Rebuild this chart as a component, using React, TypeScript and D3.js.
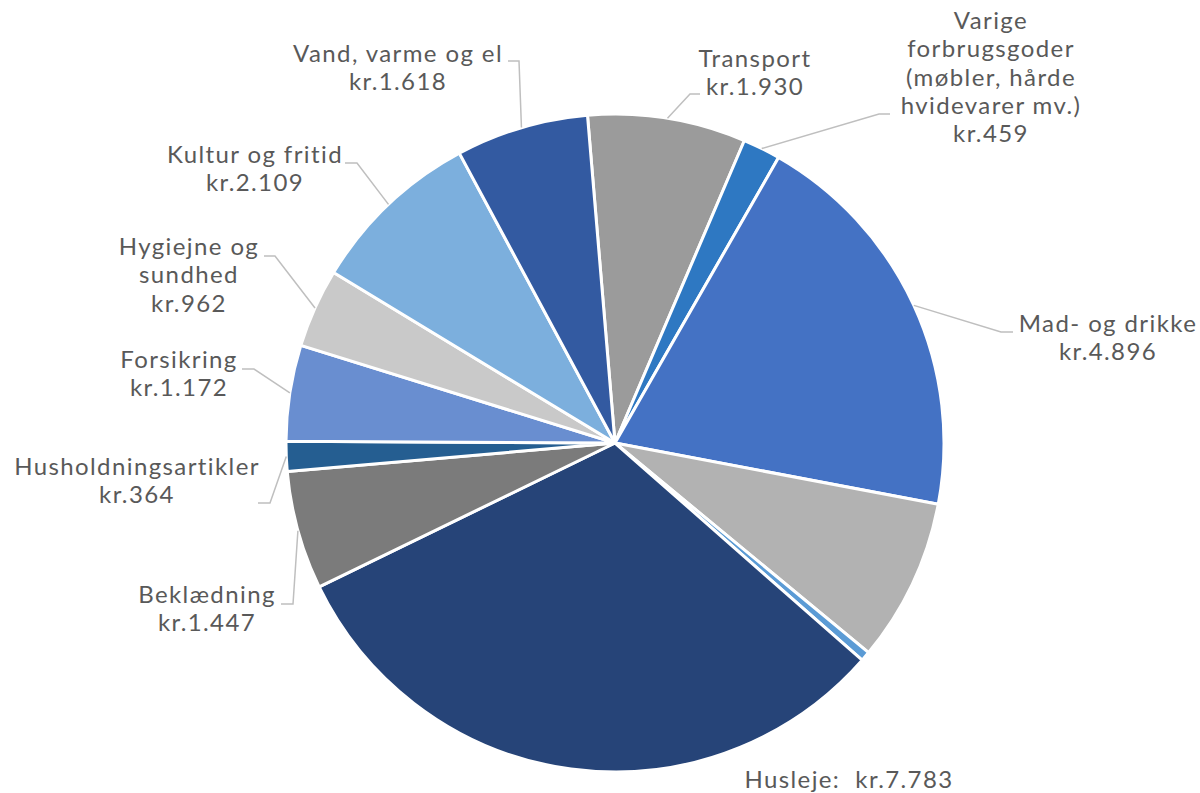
import * as d3 from "d3";

// Værdier i kr. – rækkefølge med uret, startende ved Transport
const categories = [
  "Transport",
  "Varige forbrugsgoder",
  "Mad- og drikke",
  "Øvrigt",
  "Øvrigt 2",
  "Husleje",
  "Beklædning",
  "Husholdningsartikler",
  "Forsikring",
  "Hygiejne og sundhed",
  "Kultur og fritid",
  "Vand, varme og el",
];
const values = [1930, 459, 4896, 1990, 120, 7783, 1447, 364, 1172, 962, 2109, 1618];
const colors = [
  "#9B9B9B",
  "#2E78C2",
  "#4472C4",
  "#B2B2B2",
  "#5B9BD5",
  "#264478",
  "#7B7B7B",
  "#255E91",
  "#698ED0",
  "#C9C9C9",
  "#7CAFDD",
  "#335AA1",
];
const labelLines: (string[] | null)[] = [
  ["Transport", "kr.1.930"],
  ["Varige", "forbrugsgoder", "(møbler, hårde", "hvidevarer mv.)", "kr.459"],
  ["Mad- og drikke", "kr.4.896"],
  null,
  null,
  ["Husleje:  kr.7.783"],
  ["Beklædning", "kr.1.447"],
  ["Husholdningsartikler", "kr.364"],
  ["Forsikring", "kr.1.172"],
  ["Hygiejne og", "sundhed", "kr.962"],
  ["Kultur og fritid", "kr.2.109"],
  ["Vand, varme og el", "kr.1.618"],
];

// label layout: text centre x, first baseline y, leader elbow x,y and end x
type Layout = { cx: number; y: number; elbow?: [number, number]; end?: number };
const layout: Record<string, Layout> = {
  "Transport": { cx: 755, y: 67, elbow: [690, 94], end: 700 },
  "Varige forbrugsgoder": { cx: 991, y: 29, elbow: [879, 114], end: 890 },
  "Mad- og drikke": { cx: 1108, y: 332, elbow: [1001, 332], end: 1013 },
  "Husleje": { cx: 849, y: 788 },
  "Beklædning": { cx: 207, y: 603, elbow: [293, 604], end: 281 },
  "Husholdningsartikler": { cx: 137, y: 475, elbow: [270, 503], end: 258 },
  "Forsikring": { cx: 179, y: 368, elbow: [254, 369], end: 242 },
  "Hygiejne og sundhed": { cx: 189, y: 255, elbow: [275, 256], end: 264 },
  "Kultur og fritid": { cx: 255, y: 163, elbow: [357, 163], end: 345 },
  "Vand, varme og el": { cx: 398, y: 62, elbow: [519, 61], end: 508 },
};

const W = 1200;
const H = 793;
const cx = 615;
const cy = 443;
const R = 329;
const lineH = 28.3;
const start = (-4.8 * Math.PI) / 180;

export default function App() {
  const pie = d3
    .pie<number>()
    .sort(null)
    .value((d) => d)
    .startAngle(start)
    .endAngle(start + 2 * Math.PI);
  const arcs = pie(values);
  const arc = d3.arc<d3.PieArcDatum<number>>().innerRadius(0).outerRadius(R);

  return (
    <svg
      width={W}
      height={H}
      style={{ position: "absolute", left: 0, top: 0, background: "#fff" }}
      fontFamily="Lato, 'Noto Sans', sans-serif"
    >
      <g transform={`translate(${cx},${cy})`}>
        {arcs.map((a, i) => (
          <path key={i} d={arc(a) || ""} fill={colors[i]} stroke="#fff" strokeWidth={3} strokeLinejoin="round" />
        ))}
      </g>
      {arcs.map((a, i) => {
        const lines = labelLines[i];
        if (!lines) return null;
        const l = layout[categories[i]];
        const mid = (a.startAngle + a.endAngle) / 2;
        const px = cx + R * Math.sin(mid);
        const py = cy - R * Math.cos(mid);
        return (
          <g key={i}>
            {l.elbow && (
              <polyline
                points={`${px},${py} ${l.elbow[0]},${l.elbow[1]} ${l.end},${l.elbow[1]}`}
                fill="none"
                stroke="#BFBFBF"
                strokeWidth={1.5}
              />
            )}
            <text
              x={l.cx}
              y={l.y}
              textAnchor="middle"
              fontSize={24}
              letterSpacing={1.4}
              fill="#595959"
              style={{ whiteSpace: "pre" }}
            >
              {lines.map((t, j) => (
                <tspan key={j} x={l.cx} y={l.y + j * lineH}>
                  {t}
                </tspan>
              ))}
            </text>
          </g>
        );
      })}
    </svg>
  );
}
